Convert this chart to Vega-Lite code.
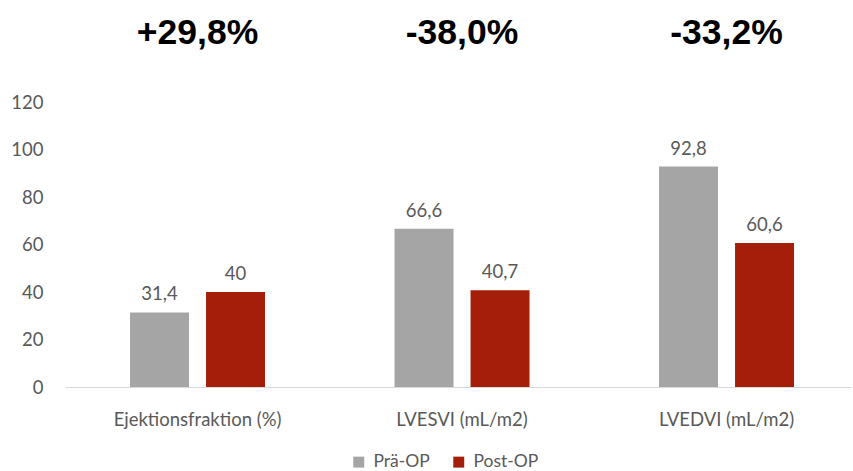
{
  "$schema": "https://vega.github.io/schema/vega-lite/v6.json",
  "width": 786,
  "height": 285,
  "autosize": {"type": "none"},
  "padding": {"left": 65, "top": 102, "right": 2, "bottom": 84},
  "config": {
    "view": {"stroke": null},
    "font": "Lato",
    "locale": {"number": {"decimal": ",", "thousands": ".", "grouping": [3], "currency": ["", " €"]}}
  },
  "datasets": {
    "bars": [
      {"category": "Ejektionsfraktion (%)", "group": "Prä-OP", "value": 31.4},
      {"category": "Ejektionsfraktion (%)", "group": "Post-OP", "value": 40},
      {"category": "LVESVI (mL/m2)", "group": "Prä-OP", "value": 66.6},
      {"category": "LVESVI (mL/m2)", "group": "Post-OP", "value": 40.7},
      {"category": "LVEDVI (mL/m2)", "group": "Prä-OP", "value": 92.8},
      {"category": "LVEDVI (mL/m2)", "group": "Post-OP", "value": 60.6}
    ],
    "titles": [
      {"category": "Ejektionsfraktion (%)", "change": "+29,8%"},
      {"category": "LVESVI (mL/m2)", "change": "-38,0%"},
      {"category": "LVEDVI (mL/m2)", "change": "-33,2%"}
    ]
  },
  "layer": [
    {
      "data": {"name": "bars"},
      "mark": {"type": "bar"},
      "encoding": {
        "x": {
          "field": "category", "type": "nominal",
          "sort": ["Ejektionsfraktion (%)", "LVESVI (mL/m2)", "LVEDVI (mL/m2)"],
          "scale": {"paddingInner": 0.4896, "paddingOuter": 0.2306, "align": 0.533},
          "axis": {"title": null, "labelAngle": 0, "ticks": false, "domainColor": "#d9d9d9", "domainWidth": 1, "labelColor": "#595959", "labelFontSize": 18.5, "labelPadding": 23, "grid": false}
        },
        "xOffset": {"field": "group", "type": "nominal", "sort": ["Prä-OP", "Post-OP"], "scale": {"paddingInner": 0.224}},
        "y": {
          "field": "value", "type": "quantitative",
          "scale": {"domain": [0, 120]},
          "axis": {"title": null, "domain": false, "ticks": false, "grid": false, "values": [0, 20, 40, 60, 80, 100, 120], "labelColor": "#595959", "labelFontSize": 18.5, "labelPadding": 22}
        },
        "color": {
          "field": "group", "type": "nominal",
          "scale": {"domain": ["Prä-OP", "Post-OP"], "range": ["#a5a5a5", "#a41e0a"]},
          "legend": {"title": null, "orient": "none", "legendX": 285, "legendY": 351, "direction": "horizontal", "symbolType": "square", "symbolSize": 120, "symbolStrokeWidth": 0, "labelFontSize": 17.5, "labelColor": "#595959", "columnPadding": 20, "labelOffset": 6}
        }
      }
    },
    {
      "data": {"name": "bars"},
      "mark": {"type": "text", "dy": -18, "fontSize": 18.5, "color": "#595959"},
      "encoding": {
        "x": {"field": "category", "type": "nominal", "sort": ["Ejektionsfraktion (%)", "LVESVI (mL/m2)", "LVEDVI (mL/m2)"]},
        "xOffset": {"field": "group", "type": "nominal", "sort": ["Prä-OP", "Post-OP"]},
        "y": {"field": "value", "type": "quantitative"},
        "text": {"field": "value", "type": "quantitative", "format": ".1~f"}
      }
    },
    {
      "data": {"name": "titles"},
      "mark": {"type": "text", "font": "Liberation Sans", "fontWeight": "bold", "fontSize": 35.5, "color": "#000000"},
      "encoding": {
        "x": {"field": "category", "type": "nominal", "sort": ["Ejektionsfraktion (%)", "LVESVI (mL/m2)", "LVEDVI (mL/m2)"]},
        "y": {"datum": 149},
        "text": {"field": "change"}
      }
    }
  ]
}
